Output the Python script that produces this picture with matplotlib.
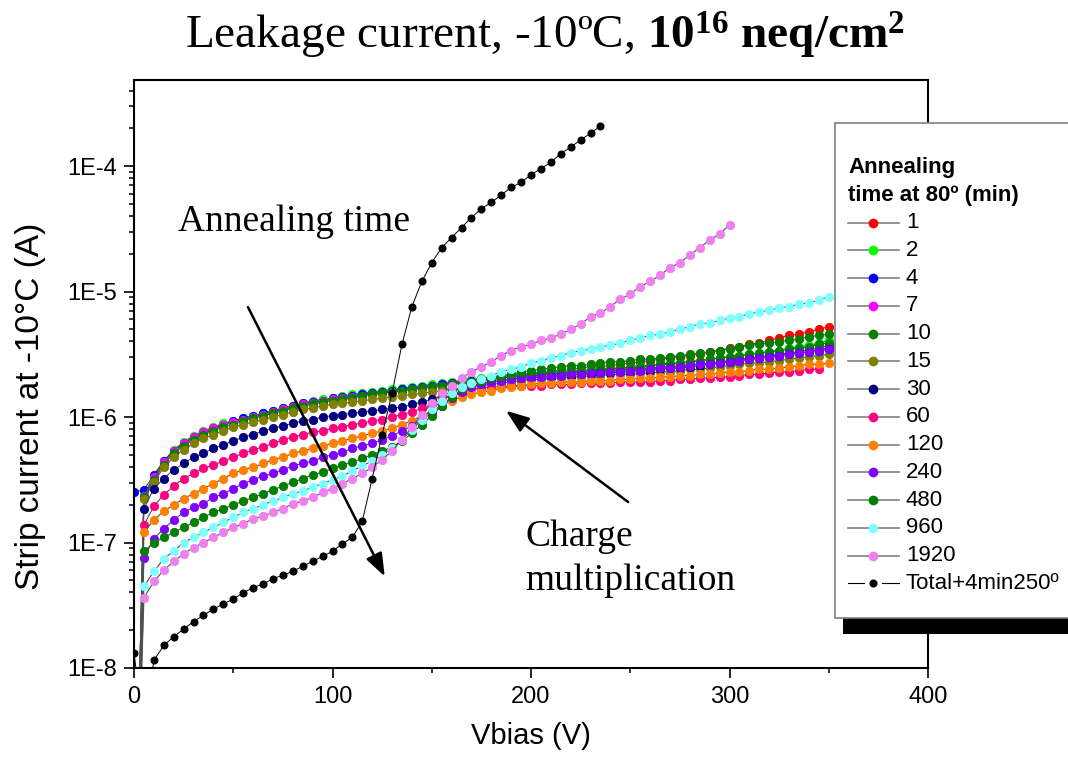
import numpy as np
import matplotlib
matplotlib.use('Agg')
import matplotlib.pyplot as plt
from matplotlib.patches import Rectangle, ArrowStyle
from matplotlib.ticker import FixedLocator, LogLocator, NullFormatter, MultipleLocator

plt.rcParams['font.family'] = ['Liberation Sans', 'DejaVu Sans']
plt.rcParams['mathtext.fontset'] = 'custom'
plt.rcParams['mathtext.rm'] = 'Liberation Serif'
plt.rcParams['mathtext.bf'] = 'Liberation Serif:bold'
plt.rcParams['mathtext.it'] = 'Liberation Serif:italic'

# ---------------- data (log10 of strip current in A) ----------------
voltage = np.arange(0, 351, 5)          # V, 0 .. 350 step 5

log_1 = [-10, -6.63, -6.49, -6.37, -6.28, -6.22, -6.17, -6.13, -6.10, -6.07, -6.04,
         -6.02, -6.00, -5.98, -5.96, -5.94, -5.92, -5.90, -5.88, -5.87, -5.86,
         -5.84, -5.83, -5.82, -5.81, -5.80, -5.79, -5.78, -5.77, -5.76, -5.75,
         -5.74, -5.73, -5.72, -5.71, -5.70, -5.69, -5.68, -5.67, -5.66, -5.65,
         -5.64, -5.63, -5.63, -5.62, -5.61, -5.60, -5.60, -5.59, -5.58, -5.57,
         -5.56, -5.55, -5.54, -5.53, -5.52, -5.51, -5.50, -5.48, -5.47, -5.45,
         -5.44, -5.42, -5.41, -5.39, -5.37, -5.35, -5.34, -5.32, -5.30, -5.28]
log_2 = [-10, -6.62, -6.47, -6.35, -6.26, -6.20, -6.15, -6.11, -6.08, -6.05, -6.03,
         -6.01, -5.99, -5.97, -5.95, -5.93, -5.91, -5.89, -5.87, -5.86, -5.85,
         -5.83, -5.82, -5.81, -5.80, -5.79, -5.78, -5.77, -5.76, -5.75, -5.74,
         -5.73, -5.72, -5.71, -5.70, -5.69, -5.68, -5.67, -5.66, -5.66, -5.65,
         -5.65, -5.64, -5.64, -5.63, -5.63, -5.62, -5.62, -5.61, -5.61, -5.60,
         -5.59, -5.59, -5.58, -5.57, -5.57, -5.56, -5.55, -5.54, -5.53, -5.52,
         -5.51, -5.50, -5.49, -5.48, -5.47, -5.45, -5.44, -5.43, -5.41, -5.39]
log_4 = [-6.60, -6.58, -6.46, -6.35, -6.27, -6.21, -6.16, -6.12, -6.09, -6.06, -6.03,
         -6.01, -5.99, -5.97, -5.95, -5.93, -5.91, -5.89, -5.88, -5.87, -5.85,
         -5.84, -5.83, -5.82, -5.81, -5.80, -5.79, -5.78, -5.77, -5.76, -5.75,
         -5.74, -5.73, -5.72, -5.71, -5.70, -5.69, -5.69, -5.68, -5.67, -5.67,
         -5.66, -5.66, -5.65, -5.65, -5.64, -5.64, -5.63, -5.63, -5.62, -5.62,
         -5.61, -5.61, -5.60, -5.60, -5.59, -5.58, -5.58, -5.57, -5.56, -5.55,
         -5.54, -5.53, -5.52, -5.51, -5.50, -5.49, -5.48, -5.46, -5.45, -5.43]
log_7 = [-10, -6.63, -6.48, -6.36, -6.27, -6.21, -6.16, -6.12, -6.09, -6.06, -6.04,
         -6.02, -6.00, -5.98, -5.96, -5.94, -5.92, -5.90, -5.89, -5.87, -5.86,
         -5.85, -5.84, -5.83, -5.82, -5.81, -5.80, -5.79, -5.78, -5.77, -5.76,
         -5.75, -5.74, -5.73, -5.72, -5.71, -5.70, -5.69, -5.68, -5.68, -5.67,
         -5.67, -5.66, -5.66, -5.65, -5.65, -5.64, -5.64, -5.63, -5.63, -5.62,
         -5.62, -5.61, -5.61, -5.60, -5.60, -5.59, -5.58, -5.58, -5.57, -5.56,
         -5.55, -5.54, -5.53, -5.52, -5.51, -5.50, -5.49, -5.48, -5.46, -5.45]
log_10 = [-10, -6.64, -6.50, -6.38, -6.29, -6.23, -6.18, -6.14, -6.11, -6.08, -6.06,
          -6.03, -6.01, -5.99, -5.97, -5.95, -5.93, -5.91, -5.90, -5.88, -5.87,
          -5.86, -5.85, -5.83, -5.82, -5.81, -5.80, -5.79, -5.78, -5.77, -5.76,
          -5.75, -5.74, -5.73, -5.72, -5.71, -5.70, -5.69, -5.68, -5.67, -5.66,
          -5.66, -5.65, -5.65, -5.64, -5.64, -5.63, -5.62, -5.62, -5.61, -5.61,
          -5.60, -5.59, -5.58, -5.58, -5.57, -5.56, -5.55, -5.54, -5.53, -5.52,
          -5.51, -5.50, -5.49, -5.48, -5.47, -5.46, -5.45, -5.44, -5.42, -5.41]
log_15 = [-10, -6.65, -6.52, -6.40, -6.32, -6.26, -6.21, -6.17, -6.14, -6.11, -6.08,
          -6.06, -6.04, -6.02, -6.00, -5.98, -5.96, -5.94, -5.93, -5.91, -5.90,
          -5.89, -5.88, -5.87, -5.86, -5.85, -5.84, -5.83, -5.82, -5.81, -5.80,
          -5.79, -5.78, -5.77, -5.76, -5.75, -5.74, -5.73, -5.72, -5.71, -5.70,
          -5.70, -5.69, -5.69, -5.68, -5.68, -5.67, -5.67, -5.66, -5.66, -5.66,
          -5.65, -5.65, -5.64, -5.64, -5.63, -5.62, -5.62, -5.61, -5.60, -5.59,
          -5.58, -5.57, -5.57, -5.56, -5.55, -5.54, -5.53, -5.52, -5.51, -5.50]
log_30 = [-10, -6.73, -6.57, -6.49, -6.42, -6.37, -6.32, -6.29, -6.25, -6.22, -6.19,
          -6.16, -6.14, -6.11, -6.09, -6.07, -6.05, -6.03, -6.02, -6.00, -5.99,
          -5.98, -5.97, -5.96, -5.95, -5.94, -5.93, -5.92, -5.90, -5.88, -5.86,
          -5.83, -5.80, -5.77, -5.75, -5.73, -5.72, -5.71, -5.70, -5.69, -5.69,
          -5.68, -5.68, -5.67, -5.67, -5.66, -5.66, -5.65, -5.65, -5.64, -5.64,
          -5.63, -5.63, -5.62, -5.61, -5.61, -5.60, -5.59, -5.58, -5.57, -5.56,
          -5.55, -5.54, -5.53, -5.52, -5.51, -5.50, -5.49, -5.48, -5.47, -5.46]
log_60 = [-10, -6.86, -6.71, -6.62, -6.55, -6.49, -6.45, -6.41, -6.38, -6.35, -6.32,
          -6.29, -6.26, -6.24, -6.21, -6.18, -6.16, -6.14, -6.12, -6.11, -6.09,
          -6.08, -6.06, -6.05, -6.03, -6.02, -6.00, -5.98, -5.96, -5.93, -5.90,
          -5.86, -5.83, -5.80, -5.78, -5.77, -5.76, -5.76, -5.75, -5.75, -5.75,
          -5.75, -5.74, -5.74, -5.74, -5.73, -5.73, -5.73, -5.73, -5.72, -5.72,
          -5.72, -5.72, -5.71, -5.71, -5.70, -5.70, -5.69, -5.69, -5.68, -5.68,
          -5.67, -5.66, -5.66, -5.65, -5.64, -5.64, -5.63, -5.62, -5.62]
log_120 = [-10, -6.92, -6.82, -6.75, -6.70, -6.65, -6.61, -6.57, -6.53, -6.49, -6.45,
           -6.42, -6.40, -6.37, -6.34, -6.32, -6.29, -6.27, -6.25, -6.23, -6.21,
           -6.19, -6.17, -6.15, -6.13, -6.11, -6.09, -6.06, -6.03, -5.99, -5.95,
           -5.91, -5.87, -5.84, -5.82, -5.80, -5.79, -5.77, -5.76, -5.75, -5.74,
           -5.73, -5.73, -5.72, -5.72, -5.72, -5.71, -5.71, -5.71, -5.70, -5.70,
           -5.69, -5.69, -5.68, -5.68, -5.67, -5.67, -5.66, -5.66, -5.65, -5.64,
           -5.64, -5.63, -5.62, -5.62, -5.61, -5.60, -5.59, -5.58, -5.58, -5.57]
log_240 = [-10, -7.12, -6.97, -6.89, -6.82, -6.76, -6.72, -6.69, -6.64, -6.61, -6.57,
           -6.53, -6.50, -6.47, -6.45, -6.42, -6.39, -6.37, -6.35, -6.32, -6.30,
           -6.28, -6.25, -6.23, -6.21, -6.18, -6.15, -6.11, -6.07, -6.02, -5.97,
           -5.91, -5.85, -5.80, -5.76, -5.74, -5.72, -5.71, -5.70, -5.69, -5.68,
           -5.68, -5.67, -5.67, -5.66, -5.66, -5.65, -5.65, -5.64, -5.64, -5.63,
           -5.63, -5.62, -5.61, -5.61, -5.60, -5.59, -5.58, -5.58, -5.57, -5.56,
           -5.55, -5.54, -5.53, -5.52, -5.51, -5.50, -5.49, -5.48, -5.47, -5.46]
log_480 = [-10, -7.07, -7.00, -6.96, -6.92, -6.88, -6.84, -6.80, -6.76, -6.73, -6.70,
           -6.67, -6.64, -6.61, -6.58, -6.55, -6.52, -6.49, -6.46, -6.44, -6.41,
           -6.38, -6.36, -6.33, -6.30, -6.27, -6.24, -6.19, -6.13, -6.06, -5.99,
           -5.91, -5.84, -5.78, -5.74, -5.71, -5.69, -5.67, -5.66, -5.64, -5.63,
           -5.62, -5.61, -5.60, -5.59, -5.59, -5.58, -5.57, -5.56, -5.56, -5.55,
           -5.54, -5.54, -5.53, -5.52, -5.51, -5.50, -5.49, -5.48, -5.47, -5.46,
           -5.44, -5.43, -5.42, -5.41, -5.40, -5.39, -5.38, -5.36, -5.35, -5.34]
log_960 = [-10, -7.35, -7.23, -7.13, -7.07, -7.00, -6.96, -6.92, -6.88, -6.84, -6.80,
           -6.76, -6.73, -6.70, -6.67, -6.64, -6.61, -6.59, -6.56, -6.53, -6.50,
           -6.47, -6.43, -6.39, -6.35, -6.30, -6.25, -6.18, -6.10, -6.02, -5.94,
           -5.87, -5.81, -5.76, -5.73, -5.70, -5.67, -5.64, -5.62, -5.60, -5.57,
           -5.55, -5.53, -5.51, -5.49, -5.47, -5.46, -5.44, -5.43, -5.41, -5.39,
           -5.37, -5.35, -5.34, -5.32, -5.30, -5.28, -5.26, -5.25, -5.23, -5.21,
           -5.20, -5.18, -5.16, -5.15, -5.13, -5.12, -5.10, -5.09, -5.07, -5.04]
log_1920 = [-10, -7.44, -7.31, -7.22, -7.15, -7.09, -7.04, -7.00, -6.96, -6.92, -6.88,
            -6.85, -6.81, -6.79, -6.76, -6.73, -6.69, -6.67, -6.64, -6.60, -6.57,
            -6.53, -6.49, -6.45, -6.40, -6.34, -6.27, -6.18, -6.08, -5.98, -5.89,
            -5.81, -5.75, -5.69, -5.64, -5.60, -5.56, -5.51, -5.47, -5.44, -5.42,
            -5.39, -5.37, -5.34, -5.30, -5.26, -5.20, -5.17, -5.12, -5.06, -5.02,
            -4.96, -4.92, -4.87, -4.81, -4.77, -4.71, -4.65, -4.59, -4.54, -4.47]
log_total = [-7.88, -8.50, -7.94, -7.82, -7.75, -7.69, -7.63, -7.58, -7.53, -7.49, -7.45,
             -7.40, -7.36, -7.33, -7.29, -7.26, -7.23, -7.19, -7.15, -7.11, -7.07,
             -7.01, -6.96, -6.83, -6.49, -6.14, -5.81, -5.42, -5.12, -4.92, -4.77,
             -4.65, -4.57, -4.49, -4.41, -4.34, -4.29, -4.23, -4.17, -4.13, -4.07,
             -4.02, -3.97, -3.90, -3.85, -3.79, -3.74, -3.68]

series_labels = ['1', '2', '4', '7', '10', '15', '30', '60', '120', '240', '480', '960', '1920']
series_logs = [log_1, log_2, log_4, log_7, log_10, log_15, log_30, log_60, log_120,
               log_240, log_480, log_960, log_1920]
series_colors = ['#ff0000', '#00ff00', '#0000ff', '#ff00ff', '#008000', '#808000',
                 '#000080', '#ff0080', '#ff8000', '#8000ff', '#007f00', '#80ffff', '#f080f0']
total_label = 'Total+4min250º'

ytick_values = [1e-8, 1e-7, 1e-6, 1e-5, 1e-4]
ytick_labels = ['1E-8', '1E-7', '1E-6', '1E-5', '1E-4']
xtick_values = [0, 100, 200, 300, 400]

# ---------------- figure ----------------
W, H = 1068, 762
fig = plt.figure(figsize=(W / 100, H / 100), dpi=100)
ax = fig.add_axes([134 / W, 1 - 668 / H, (928 - 134) / W, (668 - 80) / H])

line_col = '#505050'
MS = 6.0
for lab, lg, col in zip(series_labels, series_logs, series_colors):
    v = voltage[:len(lg)]
    ax.plot(v, 10 ** np.array(lg), '-', color=line_col, lw=0.8, marker='o', ms=MS,
            mfc=col, mec=col, mew=0.6, label=lab)
vt = voltage[:len(log_total)]
ax.plot(vt, 10 ** np.array(log_total), '-', color='k', lw=0.7, marker='o', ms=4.8,
        mfc='k', mec='k', label=total_label)

ax.set_yscale('log')
ax.set_xlim(0, 400)
ax.set_ylim(1e-8, 4.85e-4)

ax.yaxis.set_major_locator(FixedLocator(ytick_values))
ax.set_yticklabels(ytick_labels)
ax.yaxis.set_minor_locator(LogLocator(base=10, subs=np.arange(2, 10)))
ax.yaxis.set_minor_formatter(NullFormatter())
ax.set_xticks(xtick_values)
ax.xaxis.set_minor_locator(MultipleLocator(50))

ax.tick_params(axis='both', which='major', direction='out', length=7, width=1.2,
               labelsize=17, top=False, right=False)
ax.tick_params(axis='both', which='minor', direction='out', length=3.8, width=1.1,
               top=False, right=False)
ax.tick_params(axis='y', which='major', pad=5)
ax.tick_params(axis='x', which='major', pad=6)
for s in ax.spines.values():
    s.set_linewidth(1.5)

ax.set_xlabel('Vbias (V)', fontsize=21)
ax.xaxis.set_label_coords(0.5, -0.092)
ax.set_ylabel('Strip current at -10°C (A)', fontsize=24, va='center', ha='center')
ax.yaxis.set_label_coords(-0.130, 0.445)

# annotations
serif = 'Liberation Serif'
ax.text(22.2, 10 ** -4.446, 'Annealing time', family=serif, fontsize=27,
        ha='left', va='center')
ax.text(197, 10 ** -7.127, 'Charge\nmultiplication', family=serif, fontsize=27,
        ha='left', va='center', linespacing=1.36)
astyle = ArrowStyle('-|>', head_length=14, head_width=5.2)
ax.annotate('', xy=(126.3, 10 ** -7.27), xytext=(57.4, 10 ** -5.124),
            arrowprops=dict(arrowstyle=astyle, color='k', lw=1.8, shrinkA=0, shrinkB=0,
                            mutation_scale=1))
ax.annotate('', xy=(187.4, 10 ** -5.95), xytext=(248.9, 10 ** -6.677),
            arrowprops=dict(arrowstyle=astyle, color='k', lw=1.8, shrinkA=0, shrinkB=0,
                            mutation_scale=1))

fig.text(545 / W, 1 - 35 / H,
         r'Leakage current, -10ºC, $\mathbf{10^{16}}$ $\mathbf{neq/cm^{2}}$',
         family=serif, fontsize=34, ha='center', va='center')

# ---------------- legend (Origin-style box with shadow) ----------------
lax = fig.add_axes([0, 0, 1, 1], zorder=10)
lax.set_xlim(0, W)
lax.set_ylim(H, 0)
lax.axis('off')
lax.add_patch(Rectangle((843, 137), 400, 497, fc='k', ec='none'))
lax.add_patch(Rectangle((835, 123), 400, 495, fc='w', ec='#808080', lw=1.2))
lax.text(848, 168, 'Annealing', fontsize=16, fontweight='bold', ha='left', va='center')
lax.text(848, 196, 'time at 80º (min)', fontsize=16, fontweight='bold', ha='left', va='center')
y0, dy = 222.7, 27.75
for i, (lab, col) in enumerate(zip(series_labels, series_colors)):
    y = y0 + dy * i
    lax.plot([848, 899], [y, y], color='#808080', lw=1.2)
    lax.plot([873], [y], 'o', ms=MS, mfc=col, mec=col)
    lax.text(906, y, lab, fontsize=16, ha='left', va='center')
y = y0 + dy * len(series_labels)
lax.plot([848, 864], [y, y], color='k', lw=0.8)
lax.plot([882, 899], [y, y], color='k', lw=0.8)
lax.plot([873], [y], 'o', ms=4.8, color='k')
lax.text(906, y, total_label, fontsize=16, ha='left', va='center')

fig.savefig('out.png', dpi=100)
